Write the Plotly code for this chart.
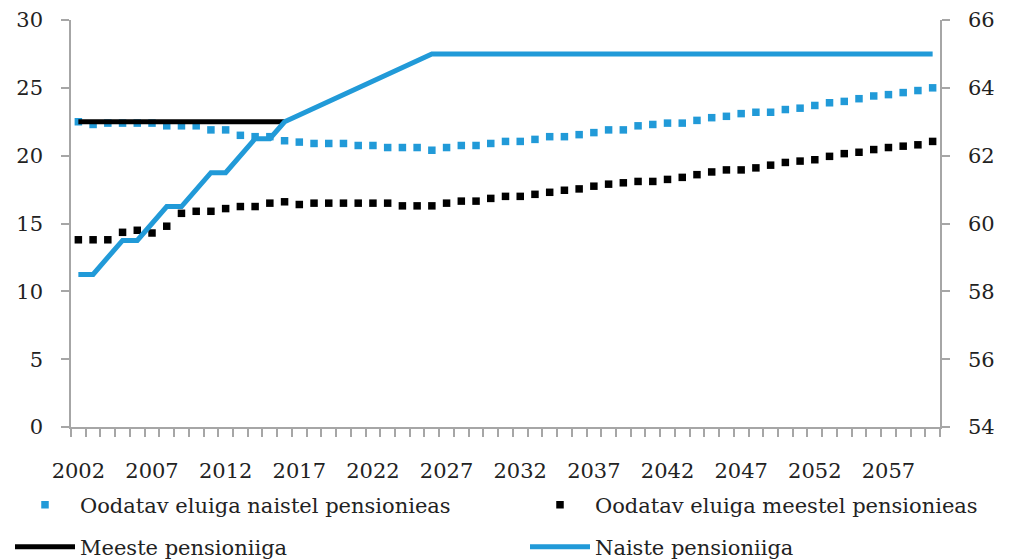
import plotly.graph_objects as go

years = list(range(2002, 2061))

women_le = [22.5, 22.3, 22.4, 22.4, 22.4, 22.4, 22.2, 22.2, 22.2, 21.9,
            21.9, 21.5, 21.4, 21.4, 21.1, 21.0, 20.9, 20.9, 20.9, 20.75,
            20.75, 20.6, 20.6, 20.6, 20.4, 20.6, 20.75, 20.75, 20.9, 21.05,
            21.05, 21.2, 21.4, 21.4, 21.55, 21.7, 21.9, 21.9, 22.2, 22.3,
            22.4, 22.4, 22.6, 22.8, 22.9, 23.1, 23.2, 23.2, 23.4, 23.5,
            23.7, 23.9, 24.0, 24.2, 24.4, 24.5, 24.65, 24.8, 25.0]

men_le = [13.8, 13.8, 13.8, 14.35, 14.5, 14.3, 14.8, 15.75, 15.9, 15.9,
          16.1, 16.25, 16.25, 16.5, 16.6, 16.4, 16.5, 16.5, 16.5, 16.5,
          16.5, 16.5, 16.3, 16.3, 16.3, 16.5, 16.65, 16.65, 16.85, 17.0,
          17.0, 17.15, 17.3, 17.45, 17.55, 17.75, 17.9, 18.0, 18.1, 18.1,
          18.25, 18.4, 18.6, 18.8, 18.95, 18.95, 19.1, 19.3, 19.5, 19.6,
          19.7, 19.95, 20.15, 20.25, 20.45, 20.6, 20.7, 20.8, 21.05]

men_pension_years = list(range(2002, 2017))
men_pension = [63, 63, 63, 63, 63, 63, 63, 63, 63, 63, 63, 63, 63, 63, 63]

women_pension = [58.5, 58.5, 59, 59.5, 59.5, 60, 60.5, 60.5, 61, 61.5,
                 61.5, 62, 62.5, 62.5, 63, 63.2, 63.4, 63.6, 63.8, 64,
                 64.2, 64.4, 64.6, 64.8, 65, 65, 65, 65, 65, 65,
                 65, 65, 65, 65, 65, 65, 65, 65, 65, 65,
                 65, 65, 65, 65, 65, 65, 65, 65, 65, 65,
                 65, 65, 65, 65, 65, 65, 65, 65, 65]

x_tick_years = [2002, 2007, 2012, 2017, 2022, 2027, 2032, 2037, 2042, 2047, 2052, 2057]

names = ["Oodatav eluiga naistel pensionieas",
         "Oodatav eluiga meestel pensionieas",
         "Meeste pensioniiga",
         "Naiste pensioniiga"]

BLUE = "#219AD8"
BLACK = "#000000"
GREY = "#A6A6A6"
FONT = "DejaVu Serif"

# the page places the figure 8px in from the top-left corner
OFF = 8
W, H = 1031, 560
ML, MT = 71 - OFF, 20 - OFF
PR, PB = 940 - OFF, 427 - OFF          # plot right / bottom in figure px
MR, MB = W - PR, H - PB
PW, PH = PR - ML, PB - MT


def px_x(px):
    return (px - OFF - ML) / PW


def px_y(py):
    return (PB - (py - OFF)) / PH


fig = go.Figure()
fig.add_trace(go.Scatter(x=years, y=women_le, mode="markers", name=names[0],
                         marker=dict(symbol="square", size=7.5, color=BLUE),
                         legend="legend"))
fig.add_trace(go.Scatter(x=years, y=men_le, mode="markers", name=names[1],
                         marker=dict(symbol="square", size=7.5, color=BLACK),
                         legend="legend2"))
fig.add_trace(go.Scatter(x=men_pension_years, y=men_pension, mode="lines", name=names[2],
                         line=dict(color=BLACK, width=5), yaxis="y2",
                         legend="legend3"))
fig.add_trace(go.Scatter(x=years, y=women_pension, mode="lines", name=names[3],
                         line=dict(color=BLUE, width=5), yaxis="y2",
                         legend="legend4"))

legend_common = dict(xref="paper", yref="paper", xanchor="left", yanchor="middle",
                     orientation="h", bgcolor="rgba(0,0,0,0)", itemwidth=60,
                     font=dict(family=FONT, size=21, color="#222222"))

fig.update_layout(
    width=W, height=H,
    showlegend=True,
    margin=dict(l=ML, r=MR, t=MT, b=MB, autoexpand=False),
    paper_bgcolor="white", plot_bgcolor="white",
    font=dict(family=FONT, size=21, color="#222222"),
    xaxis=dict(range=[2001.5, 2060.5], tickvals=x_tick_years,
               ticks="outside", ticklen=0, tickcolor="rgba(0,0,0,0)",
               ticklabelstandoff=24, tickangle=0,
               minor=dict(tick0=2001.5, dtick=1, ticks="outside", ticklen=8,
                          tickcolor=GREY, tickwidth=1.5),
               showline=True, linecolor=GREY, linewidth=1.5,
               showgrid=False, zeroline=False,
               tickfont=dict(family=FONT, size=21)),
    yaxis=dict(range=[0, 30], dtick=5, ticks="outside", ticklen=8,
               tickcolor=GREY, tickwidth=1.5, ticklabelstandoff=14,
               showline=True, linecolor=GREY, linewidth=1.5,
               showgrid=False, zeroline=False,
               tickfont=dict(family=FONT, size=21)),
    yaxis2=dict(range=[54, 66], dtick=2, overlaying="y", side="right",
                ticks="outside", ticklen=8, tickcolor=GREY, tickwidth=1.5,
                ticklabelstandoff=14,
                showline=True, linecolor=GREY, linewidth=1.5,
                showgrid=False, zeroline=False,
                tickfont=dict(family=FONT, size=21)),
    legend=dict(x=px_x(10), y=px_y(505), **legend_common),
    legend2=dict(x=px_x(525), y=px_y(505), **legend_common),
    legend3=dict(x=px_x(10), y=px_y(547), **legend_common),
    legend4=dict(x=px_x(525), y=px_y(547), **legend_common),
)

fig.write_html("out.html")
